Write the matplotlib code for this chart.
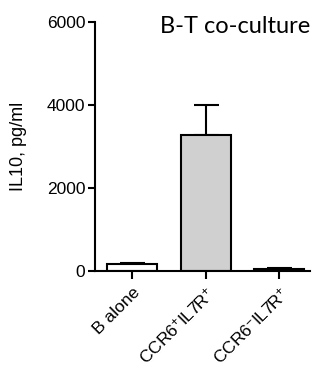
import numpy as np
import matplotlib
matplotlib.use('Agg')
import matplotlib.pyplot as plt

plt.rcParams['font.family'] = ['Liberation Sans', 'DejaVu Sans']
plt.rcParams['mathtext.fontset'] = 'custom'
plt.rcParams['mathtext.rm'] = 'Liberation Sans'
plt.rcParams['mathtext.default'] = 'rm'

names = ["B alone", "CCR6$^{+}$IL7R$^{+}$", "CCR6$^{-}$IL7R$^{+}$"]
means = [170, 3280, 55]
errs = [25, 720, 20]
colors = ['white', '#d0d0d0', 'white']

fig = plt.figure(figsize=(3.2, 3.69), dpi=100)
ax = fig.add_axes([0.297, 0.2656, 0.672, 0.675])

index = np.arange(len(means))
ax.bar(index, means, width=0.68, color=colors, edgecolor='black', linewidth=1.5, zorder=2)
ax.errorbar(index, means, yerr=[np.zeros(len(errs)), errs], fmt='none', ecolor='black',
            elinewidth=1.5, capsize=9, capthick=1.5, zorder=1)

ax.set_xlim(-0.503, 2.42)
ax.set_ylim(0, 6000)
ax.set_yticks([0, 2000, 4000, 6000])
ax.set_xticks(index)
ax.set_xticklabels(names, rotation=45, ha='right', rotation_mode='anchor', fontsize=12.5)
ax.tick_params(axis='both', width=1.5, length=5, labelsize=12.5, pad=2)
ax.tick_params(axis='x', length=6, pad=4)
for s in ['top', 'right']:
    ax.spines[s].set_visible(False)
for s in ['left', 'bottom']:
    ax.spines[s].set_linewidth(1.5)

ax.set_ylabel('IL10, pg/ml', fontsize=13, va='center')
ax.yaxis.set_label_coords(-0.358, 0.5)
fig.text(0.5, 0.91, 'B-T co-culture', fontsize=17, family=['Lato', 'DejaVu Sans'])

fig.savefig('out.png', dpi=100)
